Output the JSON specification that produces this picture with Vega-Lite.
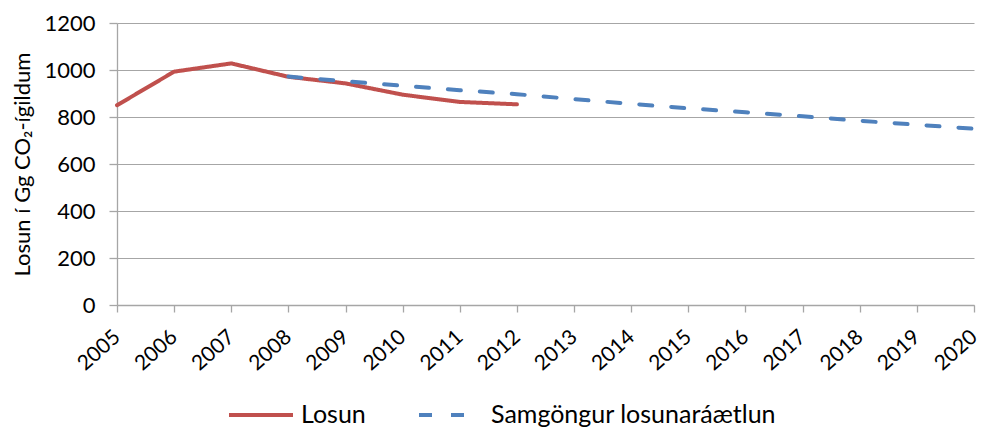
{
  "$schema": "https://vega.github.io/schema/vega-lite/v6.json",
  "autosize": {"type": "none"},
  "width": 857,
  "height": 282,
  "padding": {"left": 117, "top": 23, "right": 9, "bottom": 122},
  "background": "white",
  "data": {
    "values": [
      {"year": "2005", "series": "Losun", "value": 850},
      {"year": "2006", "series": "Losun", "value": 993},
      {"year": "2007", "series": "Losun", "value": 1028},
      {"year": "2008", "series": "Losun", "value": 971},
      {"year": "2009", "series": "Losun", "value": 943},
      {"year": "2010", "series": "Losun", "value": 895},
      {"year": "2011", "series": "Losun", "value": 864},
      {"year": "2012", "series": "Losun", "value": 854},
      {"year": "2008", "series": "Samgöngur losunaráætlun", "value": 972},
      {"year": "2009", "series": "Samgöngur losunaráætlun", "value": 952},
      {"year": "2010", "series": "Samgöngur losunaráætlun", "value": 933},
      {"year": "2011", "series": "Samgöngur losunaráætlun", "value": 914},
      {"year": "2012", "series": "Samgöngur losunaráætlun", "value": 897},
      {"year": "2013", "series": "Samgöngur losunaráætlun", "value": 876},
      {"year": "2014", "series": "Samgöngur losunaráætlun", "value": 856},
      {"year": "2015", "series": "Samgöngur losunaráætlun", "value": 837},
      {"year": "2016", "series": "Samgöngur losunaráætlun", "value": 820},
      {"year": "2017", "series": "Samgöngur losunaráætlun", "value": 803},
      {"year": "2018", "series": "Samgöngur losunaráætlun", "value": 784},
      {"year": "2019", "series": "Samgöngur losunaráætlun", "value": 767},
      {"year": "2020", "series": "Samgöngur losunaráætlun", "value": 750}
    ]
  },
  "mark": {"type": "line", "strokeWidth": 4, "strokeCap": "round", "strokeJoin": "round"},
  "encoding": {
    "x": {
      "field": "year",
      "type": "ordinal",
      "scale": {"type": "point", "padding": 0},
      "axis": {
        "title": null,
        "labelAngle": -42,
        "labelAlign": "right",
        "labelBaseline": "middle",
        "labelPadding": 22,
        "labelFontSize": 21,
        "tickSize": 7,
        "grid": false
      }
    },
    "y": {
      "field": "value",
      "type": "quantitative",
      "scale": {"domain": [0, 1200], "nice": false},
      "axis": {
        "title": "Losun í Gg CO₂-ígildum",
        "values": [0, 200, 400, 600, 800, 1000, 1200],
        "format": "d",
        "tickSize": 8,
        "labelPadding": 14,
        "titlePadding": 9,
        "grid": true
      }
    },
    "color": {
      "field": "series",
      "type": "nominal",
      "scale": {"domain": ["Losun", "Samgöngur losunaráætlun"], "range": ["#C0504D", "#4F81BD"]},
      "legend": {
        "title": null,
        "orient": "none",
        "direction": "horizontal",
        "legendX": 110,
        "legendY": 358,
        "symbolType": "stroke",
        "symbolSize": 4096,
        "symbolStrokeWidth": 4,
        "labelOffset": 6,
        "labelLimit": 0,
        "columnPadding": 45,
        "labelFontSize": 25,
        "labelFont": "Lato",
        "labelColor": "#000000"
      }
    },
    "strokeDash": {
      "field": "series",
      "type": "nominal",
      "scale": {"domain": ["Losun", "Samgöngur losunaráætlun"], "range": [[1, 0], [13, 19]]},
      "legend": null
    }
  },
  "config": {
    "view": {"stroke": null},
    "axis": {
      "labelFont": "Lato",
      "titleFont": "Lato",
      "labelFontSize": 22,
      "titleFontSize": 22,
      "titleFontWeight": "normal",
      "labelColor": "#000000",
      "titleColor": "#000000",
      "gridColor": "#a6a6a6",
      "domainColor": "#a6a6a6",
      "tickColor": "#a6a6a6",
      "gridWidth": 1,
      "domainWidth": 1.3,
      "tickWidth": 1.3
    }
  }
}
